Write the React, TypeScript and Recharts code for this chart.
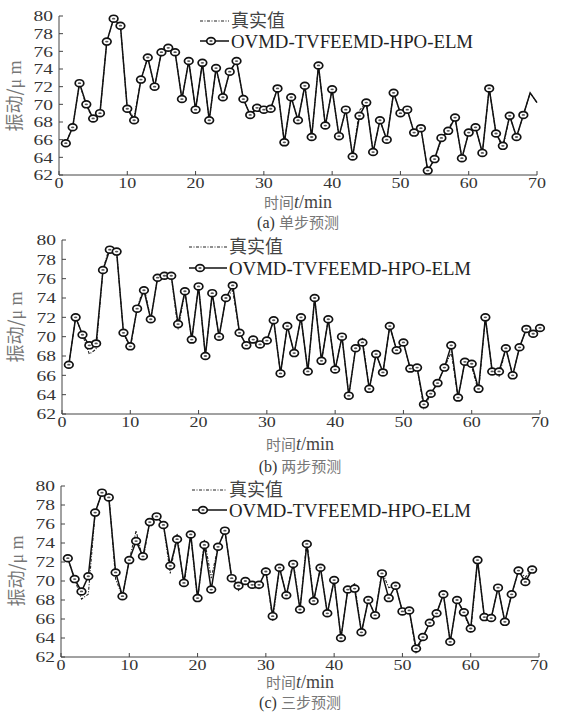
import React from 'react';
import { LineChart, Line, XAxis, YAxis } from 'recharts';

// ---- data ----
const X_TICKS = [0, 10, 20, 30, 40, 50, 60, 70];
const Y_TICKS = [62, 64, 66, 68, 70, 72, 74, 76, 78, 80];

const SERIES_REAL = '真实值';
const SERIES_PRED = 'OVMD-TVFEEMD-HPO-ELM';

// (a) single step  (t = 1..70)
const PRED_1 = [65.6, 67.4, 72.4, 70.0, 68.4, 69.0, 77.1, 79.7, 78.9, 69.5, 68.2, 72.8, 75.3, 72.0, 75.9, 76.4, 75.9, 70.6, 74.9, 69.4, 74.7, 68.2, 74.1, 70.8, 73.7, 74.9, 70.6, 68.8, 69.6, 69.4, 69.5, 71.8, 65.7, 70.8, 68.2, 72.1, 66.3, 74.4, 67.6, 71.7, 66.4, 69.4, 64.1, 68.7, 70.2, 64.6, 68.2, 66.0, 71.3, 69.0, 69.4, 66.8, 67.3, 62.5, 63.8, 66.2, 67.0, 68.5, 63.9, 66.8, 67.4, 64.5, 71.8, 66.7, 65.3, 68.7, 66.3, 68.8, 71.3, 70.2];
const REAL_1 = [65.6, 67.4, 72.4, 69.8, 68.4, 69.0, 77.1, 79.7, 78.9, 69.5, 68.5, 72.8, 75.3, 72.0, 75.9, 76.4, 75.9, 70.6, 74.9, 69.4, 74.7, 68.2, 74.1, 70.8, 73.7, 74.9, 70.6, 68.8, 69.6, 69.4, 69.5, 71.8, 65.7, 70.8, 68.2, 72.1, 66.3, 74.4, 67.6, 71.7, 66.4, 69.4, 64.1, 69.3, 70.2, 64.6, 68.2, 66.0, 71.3, 69.0, 69.4, 66.8, 67.3, 62.5, 63.8, 66.0, 67.2, 68.5, 63.9, 66.8, 67.4, 64.5, 71.8, 66.7, 65.0, 68.7, 66.3, 68.8, 71.3, 70.2];
const MARKED_1 = 68;

// (b) two step (t = 1..70)
const PRED_2 = [67.1, 72.0, 70.2, 69.1, 69.3, 76.9, 79.0, 78.8, 70.4, 69.0, 72.9, 74.8, 71.8, 76.1, 76.3, 76.3, 71.3, 74.7, 69.7, 75.2, 68.0, 74.5, 70.0, 74.0, 75.3, 70.4, 69.1, 69.7, 69.2, 69.6, 71.7, 66.2, 71.1, 68.3, 72.0, 66.4, 74.0, 67.5, 71.8, 66.6, 70.0, 63.9, 68.8, 69.4, 64.6, 68.2, 66.3, 71.1, 68.6, 69.4, 66.7, 66.8, 63.0, 64.1, 65.2, 66.8, 69.1, 63.7, 67.4, 67.2, 64.6, 72.0, 66.4, 66.4, 68.8, 66.0, 68.9, 70.8, 70.3, 70.9];
const REAL_2 = [67.1, 72.0, 70.2, 68.2, 68.7, 76.9, 79.4, 78.8, 70.4, 68.8, 72.9, 75.2, 71.8, 76.1, 76.3, 76.3, 70.7, 74.7, 69.7, 75.2, 68.0, 74.5, 70.0, 74.0, 74.8, 70.4, 69.1, 69.7, 69.2, 69.6, 71.7, 66.2, 71.1, 68.3, 72.0, 66.4, 74.0, 67.5, 71.8, 66.6, 70.0, 63.9, 68.8, 69.8, 64.6, 68.2, 66.3, 71.1, 68.6, 69.4, 66.7, 66.8, 62.6, 64.1, 65.2, 66.8, 68.4, 63.7, 67.4, 66.9, 64.3, 72.0, 66.4, 65.9, 68.8, 66.0, 68.9, 70.8, 70.3, 70.9];

// (c) three step (t = 1..69)
const PRED_3 = [72.4, 70.2, 68.9, 70.5, 77.2, 79.3, 78.8, 70.9, 68.4, 72.2, 74.2, 72.6, 76.2, 76.8, 75.9, 71.6, 74.4, 69.8, 74.9, 68.2, 73.8, 69.1, 73.6, 75.3, 70.3, 69.5, 70.0, 69.6, 69.6, 71.0, 66.3, 71.4, 68.5, 71.8, 67.0, 73.9, 67.9, 71.4, 66.6, 70.1, 64.0, 69.1, 69.2, 64.6, 68.0, 66.4, 70.8, 68.2, 69.5, 66.8, 66.9, 62.9, 64.1, 65.6, 66.6, 68.6, 63.6, 68.0, 66.7, 65.0, 72.2, 66.2, 66.1, 69.3, 65.7, 68.6, 71.1, 69.9, 71.2];
const REAL_3 = [72.4, 70.2, 68.1, 68.6, 77.2, 79.3, 79.2, 70.2, 68.4, 72.2, 75.3, 72.2, 76.2, 76.8, 75.9, 70.8, 75.0, 69.4, 74.9, 67.9, 74.4, 70.3, 73.6, 75.3, 70.3, 69.0, 70.0, 69.3, 69.2, 71.4, 65.8, 71.4, 68.5, 72.1, 67.0, 74.3, 67.9, 71.4, 66.6, 70.1, 64.0, 69.1, 69.7, 64.6, 68.0, 66.4, 71.0, 69.3, 69.5, 66.8, 66.9, 62.5, 64.1, 65.6, 66.6, 68.6, 63.6, 68.0, 66.7, 64.6, 72.2, 66.2, 66.1, 69.3, 65.7, 68.6, 71.1, 70.4, 71.2];

const toRows = (pred: number[], real: number[]) =>
  pred.map((v, i) => ({ t: i + 1, pred: v, real: real[i] }));

const SERIF = '"Liberation Serif", "Times New Roman", serif';
const CJK = '"Noto Sans CJK SC", sans-serif';

const XTick = (props: any) => {
  const { x, y, payload } = props;
  return (
    <text
      transform={`translate(${x},${y}) scale(1.2,1)`}
      textAnchor="middle"
      dy="0.71em"
      fontSize={15}
      fontFamily={SERIF}
      fill="#333"
    >
      {payload.value}
    </text>
  );
};

const YTick = (props: any) => {
  const { x, y, payload } = props;
  return (
    <text
      transform={`translate(${x},${y}) scale(1.3,1)`}
      textAnchor="end"
      dy="0.35em"
      fontSize={15}
      fontFamily={SERIF}
      fill="#333"
    >
      {payload.value}
    </text>
  );
};

const makeMarker = (limit: number) => (props: any) => {
  const { cx, cy, index } = props;
  if (cx == null || cy == null || index >= limit) return <g key={`m${index}`} />;
  return (
    <g key={`m${index}`}>
      <ellipse cx={cx} cy={cy} rx={4.3} ry={3.4} fill="#fff" stroke="#111" strokeWidth={1.7} />
      <ellipse cx={cx} cy={cy} rx={1.7} ry={0.9} fill="#555" />
    </g>
  );
};

type PanelProps = {
  top: number;
  height: number;
  marginTop: number;
  marginRight: number;
  yWidth: number;
  data: { t: number; pred: number; real: number }[];
  marked: number;
};

const Panel = ({ top, height, marginTop, marginRight, yWidth, data, marked }: PanelProps) => (
  <div style={{ position: 'absolute', left: 0, top, width: 562, height }}>
    <LineChart
      width={562}
      height={height}
      data={data}
      margin={{ top: marginTop, right: marginRight, bottom: 0, left: 0 }}
    >
      <XAxis
        dataKey="t"
        type="number"
        domain={[0, 70]}
        ticks={X_TICKS}
        height={25}
        tickSize={-4}
        tickMargin={6}
        tick={<XTick />}
        stroke="#444"
        interval={0}
      />
      <YAxis
        type="number"
        domain={[62, 80]}
        ticks={Y_TICKS}
        width={yWidth}
        tickSize={-4}
        tickMargin={10}
        tick={<YTick />}
        stroke="#444"
        interval={0}
      />
      <Line
        dataKey="real"
        name={SERIES_REAL}
        stroke="#222"
        strokeWidth={1.1}
        strokeDasharray="3 1.5 1 1.5"
        dot={false}
        activeDot={false}
        isAnimationActive={false}
        type="linear"
      />
      <Line
        dataKey="pred"
        name={SERIES_PRED}
        stroke="#111"
        strokeWidth={1.5}
        dot={makeMarker(marked)}
        activeDot={false}
        isAnimationActive={false}
        type="linear"
      />
    </LineChart>
  </div>
);

const LegendBlock = ({ x1, x2, y1, y2 }: { x1: number; x2: number; y1: number; y2: number }) => (
  <g>
    <line x1={x1} x2={x2} y1={y1} y2={y1} stroke="#222" strokeWidth={1.1} strokeDasharray="3 1.5 1 1.5" />
    <text x={x2 + 2} y={y1} dy="0.35em" fontSize={18} fontFamily={CJK} fill="#444">{SERIES_REAL}</text>
    <line x1={x1} x2={x2} y1={y2} y2={y2} stroke="#111" strokeWidth={1.5} />
    <ellipse cx={x1 + 11} cy={y2} rx={4.3} ry={3.4} fill="#fff" stroke="#111" strokeWidth={1.7} />
    <ellipse cx={x1 + 11} cy={y2} rx={1.7} ry={0.9} fill="#555" />
    <text x={x2 + 2} y={y2} dy="0.35em" fontSize={18.8} fontFamily={SERIF} fill="#222">{SERIES_PRED}</text>
  </g>
);

const YTitle = ({ x, y }: { x: number; y: number }) => (
  <text transform={`translate(${x},${y}) rotate(-90)`} textAnchor="middle" dy="0.35em" fontSize={18} fill="#777">
    <tspan fontFamily={CJK}>振动/</tspan>
    <tspan fontFamily={SERIF}>μ m</tspan>
  </text>
);

const XTitle = ({ x, y }: { x: number; y: number }) => (
  <text x={x} y={y} textAnchor="middle" dy="0.35em">
    <tspan fontFamily={CJK} fontSize={15} fill="#777">时间</tspan>
    <tspan fontFamily={SERIF} fontSize={18} fontStyle="italic" fill="#444">t</tspan>
    <tspan fontFamily={SERIF} fontSize={18} fill="#444">/min</tspan>
  </text>
);

const Caption = ({ x, y, tag, label }: { x: number; y: number; tag: string; label: string }) => (
  <text x={x} y={y} textAnchor="middle" dy="0.35em">
    <tspan fontFamily={SERIF} fontSize={16} fill="#333">{tag} </tspan>
    <tspan fontFamily={CJK} fontSize={15} fill="#777">{label}</tspan>
  </text>
);

export default function App() {
  return (
    <div style={{ position: 'absolute', left: 0, top: 0, width: 562, height: 712, background: '#fff' }}>
      <Panel top={0} height={200} marginTop={16} marginRight={25} yWidth={59} data={toRows(PRED_1, REAL_1)} marked={MARKED_1} />
      <Panel top={225} height={214} marginTop={15} marginRight={22} yWidth={62} data={toRows(PRED_2, REAL_2)} marked={PRED_2.length} />
      <Panel top={470} height={212} marginTop={16} marginRight={23} yWidth={61} data={toRows(PRED_3, REAL_3)} marked={PRED_3.length} />
      <svg width={562} height={712} style={{ position: 'absolute', left: 0, top: 0, pointerEvents: 'none' }}>
        <YTitle x={15} y={96} />
        <YTitle x={16} y={327} />
        <YTitle x={17} y={571} />
        <XTitle x={298} y={202} />
        <XTitle x={300} y={444} />
        <XTitle x={300} y={682} />
        <Caption x={298} y={222} tag="(a)" label="单步预测" />
        <Caption x={300} y={466} tag="(b)" label="两步预测" />
        <Caption x={300} y={702.5} tag="(c)" label="三步预测" />
        <LegendBlock x1={200} x2={229} y1={21} y2={41} />
        <LegendBlock x1={189} x2={227} y1={247} y2={268} />
        <LegendBlock x1={192} x2={227} y1={490} y2={510} />
      </svg>
    </div>
  );
}
